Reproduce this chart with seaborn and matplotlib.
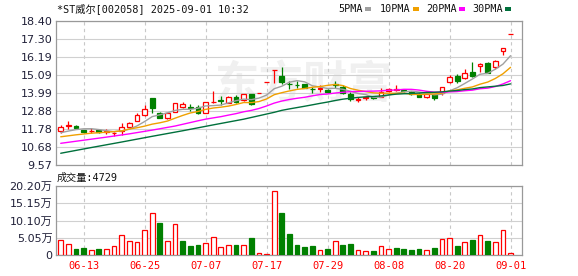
import numpy as np
import pandas as pd
import matplotlib
matplotlib.use('Agg')
import matplotlib.pyplot as plt
from matplotlib.patches import Rectangle
import seaborn as sns

# ---------------- data ----------------
dates = ['06-10', '06-11', '06-12', '06-13', '06-16', '06-17', '06-18', '06-19', '06-20', '06-23',
         '06-24', '06-25', '06-26', '06-27', '06-30', '07-01', '07-02', '07-03', '07-04', '07-07',
         '07-08', '07-09', '07-10', '07-11', '07-14', '07-15', '07-16', '07-17', '07-18', '07-21',
         '07-22', '07-23', '07-24', '07-25', '07-28', '07-29', '07-30', '07-31', '08-01', '08-04',
         '08-05', '08-06', '08-07', '08-08', '08-11', '08-12', '08-13', '08-14', '08-15', '08-18',
         '08-19', '08-20', '08-21', '08-22', '08-25', '08-26', '08-27', '08-28', '08-29', '09-01']

opens = [11.67, 11.98, 11.96, 11.73, 11.63, 11.69, 11.62, 11.54, 11.65, 11.91,
         12.28, 12.63, 13.67, 12.77, 12.43, 12.83, 13.15, 13.10, 13.10, 12.77,
         13.42, 13.56, 13.38, 13.75, 13.55, 13.90, 13.97, 14.67, 15.38, 15.04,
         14.56, 14.50, 14.52, 14.24, 14.26, 14.16, 14.55, 14.36, 13.90, 13.58,
         13.68, 13.75, 13.75, 14.10, 14.18, 14.14, 14.06, 13.92, 13.72, 13.92,
         13.99, 14.63, 15.02, 14.88, 15.28, 15.65, 15.85, 15.59, 16.56, 17.61]
highs = [12.00, 12.24, 12.00, 11.74, 11.82, 11.75, 11.77, 11.61, 12.14, 12.23,
         12.77, 13.24, 13.70, 12.80, 12.75, 13.37, 13.42, 13.28, 13.25, 13.42,
         14.09, 13.81, 13.78, 13.85, 13.95, 13.92, 13.97, 14.67, 15.40, 15.55,
         14.73, 14.70, 14.55, 14.33, 14.47, 14.22, 14.70, 14.47, 14.02, 13.71,
         13.82, 13.80, 14.30, 14.30, 14.50, 14.20, 14.12, 13.96, 13.95, 13.94,
         14.35, 15.08, 15.18, 15.43, 15.89, 15.82, 15.88, 15.98, 16.77, 17.61]
lows = [11.55, 11.75, 11.80, 11.51, 11.51, 11.55, 11.47, 11.34, 11.42, 11.90,
        12.26, 12.60, 12.73, 12.43, 12.40, 12.80, 13.05, 12.87, 12.70, 12.75,
        13.35, 13.24, 13.35, 13.35, 13.50, 13.25, 13.97, 14.67, 14.60, 14.53,
        14.26, 14.30, 14.28, 14.00, 14.06, 14.00, 14.30, 13.90, 13.49, 13.44,
        13.55, 13.62, 13.71, 14.02, 14.08, 14.03, 13.88, 13.72, 13.70, 13.58,
        13.85, 14.57, 14.61, 14.82, 14.97, 15.28, 15.20, 15.45, 16.30, 17.61]
closes = [11.88, 12.00, 11.84, 11.61, 11.65, 11.61, 11.64, 11.56, 11.88, 12.12,
          12.63, 12.98, 13.08, 12.43, 12.73, 13.36, 13.33, 13.07, 12.78, 13.42,
          13.46, 13.50, 13.75, 13.44, 13.90, 13.30, 13.97, 14.67, 15.40, 14.67,
          14.52, 14.45, 14.30, 14.20, 14.30, 14.06, 14.50, 14.00, 13.60, 13.62,
          13.71, 13.66, 14.06, 14.22, 14.20, 14.12, 13.92, 13.76, 13.90, 13.66,
          14.33, 14.94, 14.71, 15.22, 15.02, 15.79, 15.22, 15.97, 16.77, 17.61]

# volume in 万 (10k shares)
volumes = [4.3, 3.1, 1.7, 2.0, 1.4, 1.7, 1.7, 2.5, 5.8, 4.0,
           3.7, 7.2, 12.2, 9.3, 4.2, 9.0, 4.1, 2.6, 2.9, 3.4,
           5.2, 2.2, 2.8, 2.9, 2.8, 5.0, 0.6, 0.3, 18.6, 12.3,
           6.1, 2.9, 2.3, 2.6, 1.4, 1.8, 4.1, 2.9, 3.2, 1.4,
           1.1, 1.2, 2.5, 1.7, 2.0, 1.8, 1.5, 1.8, 1.4, 2.0,
           4.6, 4.9, 2.6, 3.7, 4.4, 5.8, 4.1, 3.7, 7.2, 0.47]
vol_up = [1, 1, 0, 0, 1, 0, 1, 1, 1, 1,
          1, 1, 1, 0, 1, 1, 0, 0, 0, 1,
          1, 1, 1, 0, 1, 0, 1, 1, 1, 0,
          0, 0, 0, 0, 1, 0, 1, 0, 0, 1,
          1, 0, 1, 1, 0, 0, 0, 0, 1, 0,
          1, 1, 0, 1, 0, 1, 0, 1, 1, 1]

ma5_head_idx = [0, 1, 2, 3]
ma5_head = [11.55, 11.65, 11.74, 11.79]
ma10_head_idx = [0, 2, 4, 6, 8]
ma10_head = [11.30, 11.42, 11.52, 11.58, 11.66]
ma20_head_idx = [0, 3, 6, 9, 12, 15, 18]
ma20_head = [10.90, 11.09, 11.28, 11.48, 11.71, 11.96, 12.28]
ma30_head_idx = [0, 4, 8, 12, 16, 20, 24, 28]
ma30_head = [10.29, 10.64, 10.98, 11.33, 11.67, 12.03, 12.38, 12.80]

price_tick_labels = ['9.57', '10.68', '11.78', '12.88', '13.99', '15.09', '16.19', '17.30', '18.40']
vol_tick_values = [0, 5.05, 10.10, 15.15, 20.20]
vol_tick_labels = ['0', '5.05万', '10.10万', '15.15万', '20.20万']
xtick_labels = ['06-13', '06-25', '07-07', '07-17', '07-29', '08-08', '08-20', '09-01']

title_text = '*ST威尔[002058] 2025-09-01 10:32'
vol_title = '成交量:4729'
legend_names = ['5PMA', '10PMA', '20PMA', '30PMA']

# ---------------- style ----------------
RED = '#ff0000'
GREEN = '#008000'
MA_COLORS = ['#a0a0a0', '#f0a000', '#ff00ff', '#00703c']
GRID = '#d0d0d0'
FRAME = '#999999'
LABEL = '#202038'

sns.set_theme(style='white')
plt.rcParams['font.family'] = ['DejaVu Sans', 'Noto Sans CJK SC']
MONO = ['DejaVu Sans Mono', 'Noto Sans CJK SC']

W, H = 578, 276
fig = plt.figure(figsize=(W / 100, H / 100), dpi=100)
fig.patch.set_facecolor('white')

ax = fig.add_axes([56 / W, 1 - 165 / H, 466 / W, 144 / H])
axv = fig.add_axes([56 / W, 1 - 255 / H, 466 / W, 69 / H])

n = len(dates)
x = np.arange(n)
XLIM = (-0.62, 60.5)
tick_idx = [dates.index(d) for d in xtick_labels]

for a in (ax, axv):
    a.set_facecolor('white')
    a.set_xlim(*XLIM)
    for s in a.spines.values():
        s.set_visible(True)
        s.set_color(FRAME)
        s.set_linewidth(0.9)
    a.set_xticks(tick_idx)
    a.xaxis.grid(True, linestyle=(0, (3, 3)), color='#c8c8c8', linewidth=0.8)
    a.yaxis.grid(True, linestyle='-', color=GRID, linewidth=0.8)
    a.set_axisbelow(True)
    a.tick_params(axis='both', length=0)

# ---- price panel ----
pvals = [float(t) for t in price_tick_labels]
ax.set_ylim(pvals[0], pvals[-1])
ax.set_yticks(pvals)
ax.set_yticklabels(price_tick_labels)
ax.tick_params(axis='y', pad=2.5, labelsize=8, labelcolor=LABEL)
ax.tick_params(axis='x', labelbottom=False)

# watermark
ax.text(0.53, 0.55, '东方财富', transform=ax.transAxes, ha='center', va='center',
        fontsize=32, color='#f0f0f0', family=['Noto Sans CJK SC'], fontweight='bold',
        zorder=0.4)

bw = 0.62
for i in range(n):
    o, h, l, c = opens[i], highs[i], lows[i], closes[i]
    up = c >= o
    col = RED if up else GREEN
    ax.vlines(i, l, h, color=col, linewidth=0.9, zorder=2)
    height = max(abs(c - o), 0.012)
    ax.bar(i, height, bottom=min(o, c), width=bw,
           facecolor='white' if up else GREEN, edgecolor=col, linewidth=0.9, zorder=3)

# moving averages
cs = pd.Series(closes)
ma_specs = [(5, ma5_head_idx, ma5_head), (10, ma10_head_idx, ma10_head),
            (20, ma20_head_idx, ma20_head), (30, ma30_head_idx, ma30_head)]
for (win, hidx, hval), col in zip(ma_specs, MA_COLORS):
    roll = cs.rolling(win).mean()
    valid = roll.dropna()
    df = pd.DataFrame({'x': list(hidx) + list(valid.index),
                       'y': list(hval) + list(valid.values)})
    sns.lineplot(data=df, x='x', y='y', ax=ax, color=col, linewidth=1.0,
                 legend=False, zorder=4)
ax.set_xlabel('')
ax.set_ylabel('')
ax.set_xlim(*XLIM)
ax.set_ylim(pvals[0], pvals[-1])

# ---- volume panel ----
axv.set_ylim(0, vol_tick_values[-1])
axv.set_yticks(vol_tick_values)
axv.set_yticklabels(vol_tick_labels)
axv.tick_params(axis='y', pad=2.5, labelsize=8, labelcolor=LABEL)
axv.set_xticklabels(xtick_labels)
axv.tick_params(axis='x', pad=4, labelsize=7.5, labelcolor=RED)
for lab in axv.get_xticklabels():
    lab.set_family(MONO)

for i in range(n):
    col = RED if vol_up[i] else GREEN
    axv.bar(i, volumes[i], width=bw, facecolor='white' if vol_up[i] else GREEN,
            edgecolor=col, linewidth=0.9, zorder=3)

# ---- texts ----
fig.text(57 / W, 1 - 8.5 / H, title_text, ha='left', va='center', fontsize=7.3,
         family=MONO, color='#111111')
fig.text(57 / W, 1 - 177.5 / H, vol_title, ha='left', va='center', fontsize=7.3,
         family=MONO, color='#111111')

leg_x = [338, 380, 426, 472]
sq_x = [365, 413, 459, 505]
for name, lx, sx, col in zip(legend_names, leg_x, sq_x, MA_COLORS):
    fig.text(lx / W, 1 - 9 / H, name, ha='left', va='center', fontsize=7.3,
             family=MONO, color='#111111')
    fig.patches.append(Rectangle((sx / W, 1 - 10.5 / H), 6 / W, 3 / H,
                                 transform=fig.transFigure, facecolor=col,
                                 edgecolor='none'))

fig.savefig('out.png', dpi=100)
